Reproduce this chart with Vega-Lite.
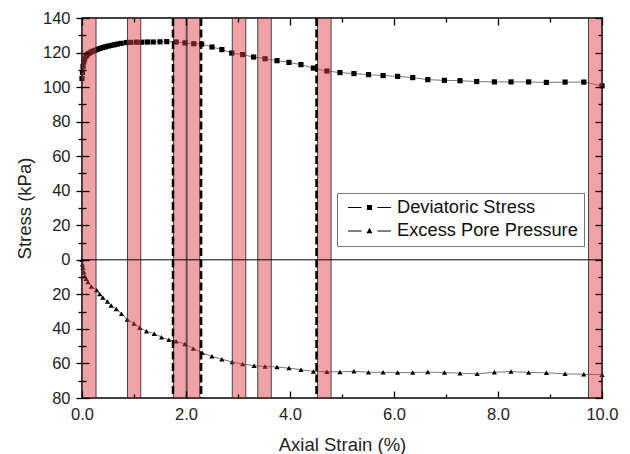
{
  "$schema": "https://vega.github.io/schema/vega-lite/v6.json",
  "width": 520,
  "height": 380,
  "autosize": {"type": "none"},
  "padding": {"left": 82, "top": 18, "right": 28, "bottom": 56},
  "background": "white",
  "config": {
    "view": {"stroke": "#000", "strokeWidth": 1.5},
    "font": "Liberation Sans"
  },
  "datasets": {
    "series": [
      {"series": "Deviatoric Stress", "strain": 0.0, "value": 105},
      {"series": "Deviatoric Stress", "strain": 0.01, "value": 108.5},
      {"series": "Deviatoric Stress", "strain": 0.02, "value": 111.8},
      {"series": "Deviatoric Stress", "strain": 0.035, "value": 114.6},
      {"series": "Deviatoric Stress", "strain": 0.05, "value": 116.3},
      {"series": "Deviatoric Stress", "strain": 0.075, "value": 117.8},
      {"series": "Deviatoric Stress", "strain": 0.1, "value": 118.7},
      {"series": "Deviatoric Stress", "strain": 0.13, "value": 119.5},
      {"series": "Deviatoric Stress", "strain": 0.17, "value": 120.2},
      {"series": "Deviatoric Stress", "strain": 0.21, "value": 120.8},
      {"series": "Deviatoric Stress", "strain": 0.25, "value": 121.3},
      {"series": "Deviatoric Stress", "strain": 0.3, "value": 121.9},
      {"series": "Deviatoric Stress", "strain": 0.35, "value": 122.4},
      {"series": "Deviatoric Stress", "strain": 0.4, "value": 122.9},
      {"series": "Deviatoric Stress", "strain": 0.45, "value": 123.3},
      {"series": "Deviatoric Stress", "strain": 0.5, "value": 123.7},
      {"series": "Deviatoric Stress", "strain": 0.56, "value": 124.1},
      {"series": "Deviatoric Stress", "strain": 0.62, "value": 124.5},
      {"series": "Deviatoric Stress", "strain": 0.68, "value": 124.9},
      {"series": "Deviatoric Stress", "strain": 0.75, "value": 125.3},
      {"series": "Deviatoric Stress", "strain": 0.85, "value": 125.8},
      {"series": "Deviatoric Stress", "strain": 0.94, "value": 125.9},
      {"series": "Deviatoric Stress", "strain": 1.05, "value": 126.0},
      {"series": "Deviatoric Stress", "strain": 1.15, "value": 126.0},
      {"series": "Deviatoric Stress", "strain": 1.26, "value": 126.1},
      {"series": "Deviatoric Stress", "strain": 1.37, "value": 126.1},
      {"series": "Deviatoric Stress", "strain": 1.5, "value": 126.2},
      {"series": "Deviatoric Stress", "strain": 1.63, "value": 126.3},
      {"series": "Deviatoric Stress", "strain": 1.81, "value": 126.1},
      {"series": "Deviatoric Stress", "strain": 1.98, "value": 125.6},
      {"series": "Deviatoric Stress", "strain": 2.15, "value": 125.1},
      {"series": "Deviatoric Stress", "strain": 2.3, "value": 124.9},
      {"series": "Deviatoric Stress", "strain": 2.5, "value": 123.2},
      {"series": "Deviatoric Stress", "strain": 2.69, "value": 121.7},
      {"series": "Deviatoric Stress", "strain": 2.88, "value": 119.7},
      {"series": "Deviatoric Stress", "strain": 3.09, "value": 118.8},
      {"series": "Deviatoric Stress", "strain": 3.3, "value": 117.4},
      {"series": "Deviatoric Stress", "strain": 3.52, "value": 116.4},
      {"series": "Deviatoric Stress", "strain": 3.75, "value": 115.3},
      {"series": "Deviatoric Stress", "strain": 3.98, "value": 114.3},
      {"series": "Deviatoric Stress", "strain": 4.21, "value": 113.0},
      {"series": "Deviatoric Stress", "strain": 4.45, "value": 111.0},
      {"series": "Deviatoric Stress", "strain": 4.71, "value": 109.3},
      {"series": "Deviatoric Stress", "strain": 4.96, "value": 108.4},
      {"series": "Deviatoric Stress", "strain": 5.23, "value": 107.8},
      {"series": "Deviatoric Stress", "strain": 5.51, "value": 107.2},
      {"series": "Deviatoric Stress", "strain": 5.79, "value": 106.7},
      {"series": "Deviatoric Stress", "strain": 6.07, "value": 106.2},
      {"series": "Deviatoric Stress", "strain": 6.36, "value": 105.5},
      {"series": "Deviatoric Stress", "strain": 6.65, "value": 104.3},
      {"series": "Deviatoric Stress", "strain": 6.97, "value": 103.9},
      {"series": "Deviatoric Stress", "strain": 7.27, "value": 103.7},
      {"series": "Deviatoric Stress", "strain": 7.59, "value": 103.2},
      {"series": "Deviatoric Stress", "strain": 7.93, "value": 103.0},
      {"series": "Deviatoric Stress", "strain": 8.25, "value": 103.0},
      {"series": "Deviatoric Stress", "strain": 8.59, "value": 103.0},
      {"series": "Deviatoric Stress", "strain": 8.93, "value": 102.7},
      {"series": "Deviatoric Stress", "strain": 9.29, "value": 102.9},
      {"series": "Deviatoric Stress", "strain": 9.65, "value": 102.9},
      {"series": "Deviatoric Stress", "strain": 10.0, "value": 100.7},
      {"series": "Excess Pore Pressure", "strain": 0.0, "value": 0},
      {"series": "Excess Pore Pressure", "strain": 0.01, "value": -2.5},
      {"series": "Excess Pore Pressure", "strain": 0.02, "value": -4.5},
      {"series": "Excess Pore Pressure", "strain": 0.035, "value": -7},
      {"series": "Excess Pore Pressure", "strain": 0.05, "value": -9.3},
      {"series": "Excess Pore Pressure", "strain": 0.08, "value": -11},
      {"series": "Excess Pore Pressure", "strain": 0.115, "value": -12.8},
      {"series": "Excess Pore Pressure", "strain": 0.18, "value": -15.4},
      {"series": "Excess Pore Pressure", "strain": 0.28, "value": -17.5},
      {"series": "Excess Pore Pressure", "strain": 0.34, "value": -19.8},
      {"series": "Excess Pore Pressure", "strain": 0.4, "value": -21.8},
      {"series": "Excess Pore Pressure", "strain": 0.49, "value": -24.1},
      {"series": "Excess Pore Pressure", "strain": 0.56, "value": -26.4},
      {"series": "Excess Pore Pressure", "strain": 0.66, "value": -28.5},
      {"series": "Excess Pore Pressure", "strain": 0.76, "value": -31.2},
      {"series": "Excess Pore Pressure", "strain": 0.87, "value": -34.5},
      {"series": "Excess Pore Pressure", "strain": 1.0, "value": -36.8},
      {"series": "Excess Pore Pressure", "strain": 1.11, "value": -39.3},
      {"series": "Excess Pore Pressure", "strain": 1.24, "value": -41.3},
      {"series": "Excess Pore Pressure", "strain": 1.39, "value": -42.8},
      {"series": "Excess Pore Pressure", "strain": 1.53, "value": -44.8},
      {"series": "Excess Pore Pressure", "strain": 1.67, "value": -46.3},
      {"series": "Excess Pore Pressure", "strain": 1.81, "value": -47.2},
      {"series": "Excess Pore Pressure", "strain": 1.98, "value": -48.8},
      {"series": "Excess Pore Pressure", "strain": 2.14, "value": -51.3},
      {"series": "Excess Pore Pressure", "strain": 2.31, "value": -53.8},
      {"series": "Excess Pore Pressure", "strain": 2.5, "value": -55.9},
      {"series": "Excess Pore Pressure", "strain": 2.69, "value": -57.5},
      {"series": "Excess Pore Pressure", "strain": 2.89, "value": -59.2},
      {"series": "Excess Pore Pressure", "strain": 3.09, "value": -60.3},
      {"series": "Excess Pore Pressure", "strain": 3.31, "value": -61.3},
      {"series": "Excess Pore Pressure", "strain": 3.52, "value": -61.7},
      {"series": "Excess Pore Pressure", "strain": 3.75, "value": -62.1},
      {"series": "Excess Pore Pressure", "strain": 3.98, "value": -62.7},
      {"series": "Excess Pore Pressure", "strain": 4.21, "value": -63.6},
      {"series": "Excess Pore Pressure", "strain": 4.45, "value": -64.6},
      {"series": "Excess Pore Pressure", "strain": 4.71, "value": -64.8},
      {"series": "Excess Pore Pressure", "strain": 4.96, "value": -64.9},
      {"series": "Excess Pore Pressure", "strain": 5.23, "value": -64.5},
      {"series": "Excess Pore Pressure", "strain": 5.51, "value": -65.1},
      {"series": "Excess Pore Pressure", "strain": 5.79, "value": -65.1},
      {"series": "Excess Pore Pressure", "strain": 6.07, "value": -65.3},
      {"series": "Excess Pore Pressure", "strain": 6.36, "value": -65.3},
      {"series": "Excess Pore Pressure", "strain": 6.65, "value": -65.0},
      {"series": "Excess Pore Pressure", "strain": 6.97, "value": -65.3},
      {"series": "Excess Pore Pressure", "strain": 7.27, "value": -65.6},
      {"series": "Excess Pore Pressure", "strain": 7.6, "value": -66.0},
      {"series": "Excess Pore Pressure", "strain": 7.93, "value": -65.1},
      {"series": "Excess Pore Pressure", "strain": 8.25, "value": -64.7},
      {"series": "Excess Pore Pressure", "strain": 8.59, "value": -65.2},
      {"series": "Excess Pore Pressure", "strain": 8.93, "value": -65.4},
      {"series": "Excess Pore Pressure", "strain": 9.29, "value": -66.0},
      {"series": "Excess Pore Pressure", "strain": 9.65, "value": -66.3},
      {"series": "Excess Pore Pressure", "strain": 10.0, "value": -66.5}
    ],
    "bands": [
      {"a": 0.0, "b": 0.27},
      {"a": 0.875, "b": 1.13},
      {"a": 1.76, "b": 2.005},
      {"a": 2.02, "b": 2.265},
      {"a": 2.89, "b": 3.15},
      {"a": 3.38, "b": 3.64},
      {"a": 4.53, "b": 4.79},
      {"a": 9.74, "b": 10.0}
    ],
    "dashes": [
      {"x": 1.75},
      {"x": 2.29},
      {"x": 4.51}
    ]
  },
  "resolve": {"axis": {"x": "independent", "y": "independent"}, "scale": {"shape": "independent"}, "legend": {"shape": "independent"}},
  "layer": [
    {
      "data": {"name": "series"},
      "mark": {"type": "line", "color": "#555", "strokeWidth": 0.8},
      "encoding": {
        "x": {
          "field": "strain", "type": "quantitative",
          "scale": {"domain": [0, 10], "nice": false, "zero": false},
          "axis": {
            "orient": "bottom", "zindex": 1,
            "values": [0, 1, 2, 3, 4, 5, 6, 7, 8, 9, 10],
            "labelExpr": "datum.value % 2 === 0 ? format(datum.value, '.1f') : ''",
            "grid": false, "domain": false,
            "tickSize": {"condition": {"test": "datum.value % 2 === 0", "value": -7}, "value": -4},
            "tickColor": "#000", "tickWidth": 1.3,
            "labelPadding": 15, "labelFontSize": 16.5, "labelFont": "Liberation Sans", "labelColor": "#222",
            "labelFlush": false, "labelOverlap": false, "labelBound": false,
            "title": "Axial Strain (%)", "titleFontSize": 18.5, "titleFont": "Liberation Sans",
            "titleFontWeight": "normal", "titleColor": "#222", "titlePadding": 10
          }
        },
        "y": {
          "field": "value", "type": "quantitative",
          "scale": {"domain": [-80, 140], "nice": false, "zero": false},
          "axis": {
            "orient": "left", "zindex": 1,
            "values": [-80, -70, -60, -50, -40, -30, -20, -10, 0, 10, 20, 30, 40, 50, 60, 70, 80, 90, 100, 110, 120, 130, 140],
            "labelExpr": "datum.value % 20 === 0 ? format(abs(datum.value), 'd') : ''",
            "grid": false, "domain": false,
            "tickSize": {"condition": {"test": "datum.value % 20 === 0", "value": -7}, "value": -4},
            "tickColor": "#000", "tickWidth": 1.3,
            "labelPadding": 19, "labelFontSize": 16.5, "labelFont": "Liberation Sans", "labelColor": "#222",
            "labelFlush": false, "labelOverlap": false, "labelBound": false,
            "title": "Stress (kPa)", "titleFontSize": 18.5, "titleFont": "Liberation Sans",
            "titleFontWeight": "normal", "titleColor": "#222", "titlePadding": 8
          }
        },
        "detail": {"field": "series"}
      }
    },
    {
      "data": {"name": "series"},
      "mark": {"type": "point", "filled": true, "color": "#000", "opacity": 1, "size": 27},
      "encoding": {
        "x": {
          "field": "strain", "type": "quantitative",
          "scale": {"domain": [0, 10], "nice": false, "zero": false},
          "axis": {
            "orient": "top", "zindex": 1, "values": [0, 1, 2, 3, 4, 5, 6, 7, 8, 9, 10],
            "labels": false, "grid": false, "domain": false,
            "tickSize": {"condition": {"test": "datum.value % 2 === 0", "value": -7}, "value": -4},
            "tickColor": "#000", "tickWidth": 1.3,
            "title": null
          }
        },
        "y": {
          "field": "value", "type": "quantitative",
          "scale": {"domain": [-80, 140], "nice": false, "zero": false},
          "axis": {
            "orient": "right", "zindex": 1,
            "values": [-80, -70, -60, -50, -40, -30, -20, -10, 0, 10, 20, 30, 40, 50, 60, 70, 80, 90, 100, 110, 120, 130, 140],
            "labels": false, "grid": false, "domain": false,
            "tickSize": {"condition": {"test": "datum.value % 20 === 0", "value": -7}, "value": -4},
            "tickColor": "#000", "tickWidth": 1.3,
            "title": null
          }
        },
        "shape": {
          "field": "series", "type": "nominal",
          "scale": {"domain": ["Deviatoric Stress", "Excess Pore Pressure"], "range": ["square", "triangle-up"]},
          "legend": null
        }
      }
    },
    {
      "data": {"name": "series"},
      "mark": {"type": "point", "filled": true, "color": "#000", "size": 0, "opacity": 1},
      "encoding": {
        "x": {"field": "strain", "type": "quantitative", "scale": {"domain": [0, 10], "nice": false, "zero": false}, "axis": null},
        "y": {
          "field": "value", "type": "quantitative", "scale": {"domain": [-80, 140], "nice": false, "zero": false},
          "axis": {
            "orient": "left", "zindex": 1,
            "values": [-80, -70, -60, -50, -40, -30, -20, -10, 0, 10, 20, 30, 40, 50, 60, 70, 80, 90, 100, 110, 120, 130, 140],
            "labels": false, "grid": false, "domain": false,
            "tickSize": {"condition": {"test": "datum.value % 20 === 0", "value": 6}, "value": 4},
            "tickColor": "#000", "tickWidth": 1.3,
            "title": null
          }
        },
        "shape": {
          "field": "series", "type": "nominal",
          "scale": {"domain": ["Deviatoric Stress", "Excess Pore Pressure"], "range": ["M-1,-0.025H-0.37V0.025H-1ZM0.37,-0.025H1V0.025H0.37ZM-0.12,-0.12H0.12V0.12H-0.12Z", "M-1,-0.025H-0.37V0.025H-1ZM0.37,-0.025H1V0.025H0.37ZM0,-0.15L0.14,0.1H-0.14Z"]},
          "legend": {
            "orient": "none", "legendX": 255, "legendY": 175, "title": null,
            "labelFontSize": 18.3, "labelLimit": 400, "labelColor": "#111", "labelFont": "Liberation Sans",
            "symbolSize": 1849, "symbolOffset": 4, "padding": 6, "rowPadding": 4.5, "labelOffset": 5,
            "clipHeight": 17,
            "strokeColor": "#777", "fillColor": "white"
          }
        }
      }
    },
    {
      "data": {"name": "bands"},
      "mark": {"type": "rect", "color": "#e03f45", "fillOpacity": 0.48, "stroke": "#333", "strokeWidth": 0.9, "strokeOpacity": 1},
      "encoding": {
        "x": {"field": "a", "type": "quantitative", "scale": {"domain": [0, 10], "nice": false, "zero": false}, "axis": null},
        "x2": {"field": "b"}
      }
    },
    {
      "data": {"name": "dashes"},
      "mark": {"type": "rule", "color": "#000", "strokeWidth": 2.5, "strokeDash": [8, 3.5]},
      "encoding": {
        "x": {"field": "x", "type": "quantitative", "scale": {"domain": [0, 10], "nice": false, "zero": false}, "axis": null}
      }
    },
    {
      "data": {"values": [{"z": 0}]},
      "mark": {"type": "rule", "color": "#000", "strokeWidth": 1},
      "encoding": {
        "y": {"field": "z", "type": "quantitative", "scale": {"domain": [-80, 140], "nice": false, "zero": false}, "axis": null}
      }
    }
  ]
}
